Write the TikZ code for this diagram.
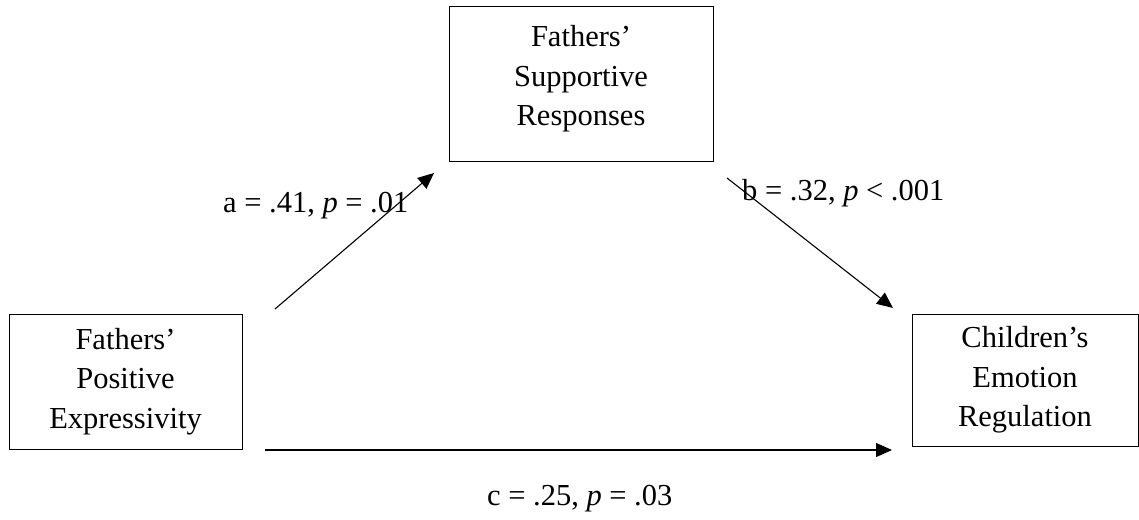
\documentclass[tikz,border=0pt]{standalone}
\usepackage{fontspec}
\setmainfont{Liberation Serif}
\usetikzlibrary{arrows.meta}
\begin{document}
\begin{tikzpicture}[x=1pt,y=-1pt,
  varbox/.style={draw, line width=1pt, align=center, inner sep=0pt,
    font=\fontsize{30.5}{39.5}\selectfont},
  conn/.style={line width=1.1pt, -{Triangle[length=16pt,width=14pt]}},
  coef/.style={font=\fontsize{30.5}{36}\selectfont, inner sep=0pt, anchor=base west}]
\useasboundingbox (0,0) rectangle (1139,519);
\node[varbox, minimum width=264pt, minimum height=154pt, text depth=16.6pt] (M) at (581,84) {Fathers’\\Supportive\\Responses};
\node[varbox, minimum width=233pt, minimum height=135pt] (X) at (125.5,381.5) {Fathers’\\Positive\\Expressivity};
\node[varbox, minimum width=226pt, minimum height=132pt] (Y) at (1025,380) {Children’s\\Emotion\\Regulation};
\coordinate (a0) at (275,309);
\coordinate (a1) at (434,173);
\coordinate (b0) at (727,178);
\coordinate (b1) at (893,308);
\coordinate (c0) at (265,450);
\coordinate (c1) at (892,450);
\draw[conn] (a0) -- (a1);
\draw[conn] (b0) -- (b1);
\draw[conn] (c0) -- (c1);
\node[coef] (la) at (223,212) {a = .41, \textit{p} = .01};
\node[coef] (lb) at (742,200) {b = .32, \textit{p} < .001};
\node[coef] (lc) at (487,505) {c = .25, \textit{p} = .03};
\end{tikzpicture}
\end{document}
